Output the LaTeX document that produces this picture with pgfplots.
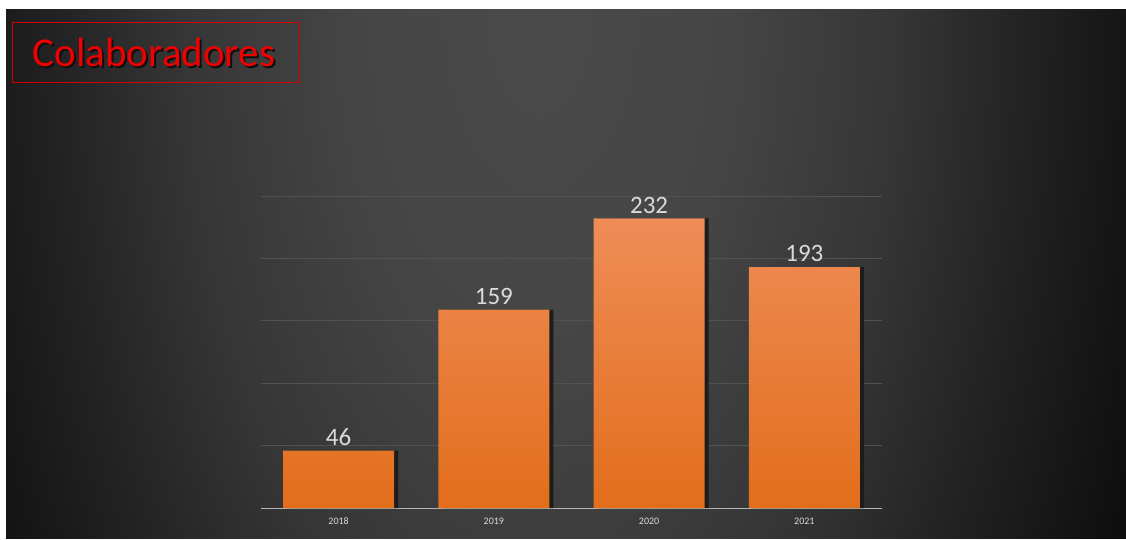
\documentclass[border=0pt]{standalone}
\usepackage{pgfplots}
\pgfplotsset{compat=1.18}
\usepackage{fontspec}
\setmainfont{Carlito}
\definecolor{bgdark}{HTML}{0A0A0A}
\definecolor{bg0}{HTML}{4A4A4A}
\definecolor{bg1}{HTML}{454545}
\definecolor{bg2}{HTML}{363636}
\definecolor{bg3}{HTML}{222222}
\definecolor{bg4}{HTML}{101010}
\pgfdeclareradialshading{bgshade}{\pgfpointorigin}{color(0bp)=(bg0); color(7bp)=(bg1); color(13bp)=(bg2); color(18bp)=(bg3); color(23bp)=(bg4); color(25bp)=(bgdark); color(50bp)=(bgdark)}
\definecolor{bartop}{HTML}{EF8C57}
\definecolor{barmid}{HTML}{F27F2C}
\definecolor{barbot}{HTML}{E26E1B}
\definecolor{gridc}{HTML}{525252}
\definecolor{basec}{HTML}{B5B5B5}
\definecolor{labc}{HTML}{DADADA}
\definecolor{titlered}{HTML}{F00000}
\definecolor{boxred}{HTML}{D00000}
\definecolor{shadowc}{HTML}{1C1C1C}
\definecolor{tshadow}{HTML}{101010}
\begin{document}
\begin{tikzpicture}[x=1pt,y=1pt]
\useasboundingbox (0,0) rectangle (1126,539);
\fill[white] (0,0) rectangle (1126,539);
\begin{scope}
\clip (6,1) rectangle (1126,529);
\fill[bgdark] (6,1) rectangle (1126,529);
\shade[shading=bgshade] (540,529) ellipse [x radius=680, y radius=1300];
\end{scope}
\begin{axis}[
  at={(261pt,31pt)}, anchor=south west,
  scale only axis, width=621pt, height=312pt,
  xmin=-0.5, xmax=3.5, ymin=0, ymax=250,
  ybar, bar width=111pt,
  xtick={0,1,2,3}, xticklabels={2018,2019,2020,2021},
  ytick={0,50,100,150,200,250}, yticklabels={},
  ymajorgrids, grid style={color=gridc, line width=0.8pt},
  axis x line*=bottom, axis y line*=left,
  x axis line style={color=basec, line width=1pt, -},
  y axis line style={draw=none},
  major tick length=0pt,
  tick style={draw=none},
  /pgf/number format/assume math mode=true,
  xticklabel style={font=\fontsize{10}{12}\selectfont, text=labc, yshift=-6.5pt},
  clip=false,
]
\addplot[draw=none, fill=shadowc, bar shift=4pt]
  coordinates {(0,46) (1,159) (2,232) (3,193)};
\addplot[draw=none, top color=bartop, middle color=barmid, bottom color=barbot,
  bar shift=0pt,
  nodes near coords,
  nodes near coords style={font=\fontsize{25}{30}\selectfont, text=labc, inner sep=2pt, yshift=3pt}]
  coordinates {(0,46) (1,159) (2,232) (3,193)};
\end{axis}
\node[anchor=base, text=tshadow, font=\fontsize{41}{48}\selectfont] at (156,470) {Colaboradores};
\node[anchor=base, text=titlered, font=\fontsize{41}{48}\selectfont] at (154,472) {Colaboradores};
\draw[boxred, line width=1pt] (12.5,456.5) rectangle (299.5,516.5);
\end{tikzpicture}
\end{document}
